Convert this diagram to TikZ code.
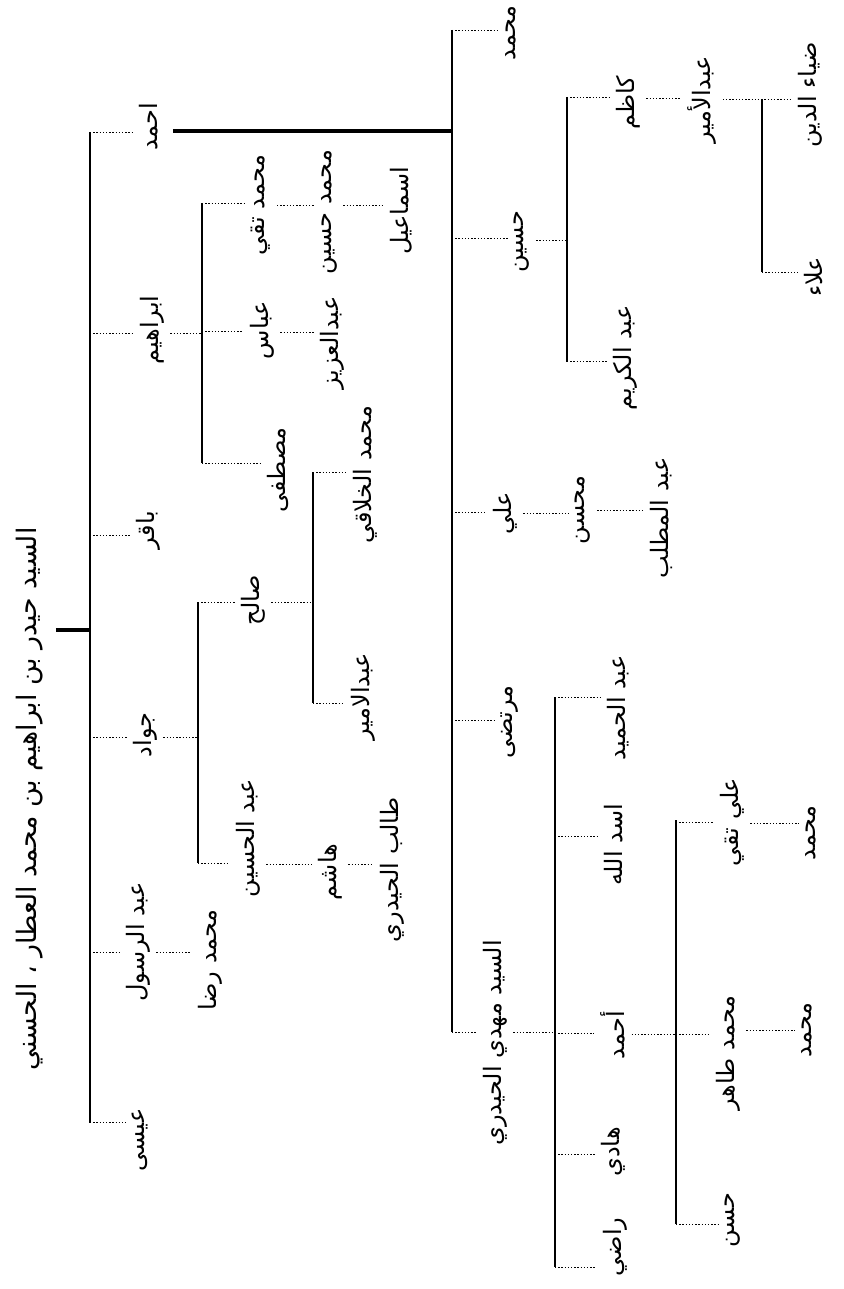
\documentclass[tikz,border=0pt]{standalone}
\usepackage{fontspec}
\newfontfamily\arabicfont[Script=Arabic]{DejaVu Sans}
\TeXXeTstate=1
\usetikzlibrary{calc}

\begin{document}
\begin{tikzpicture}[
  x=0.5pt, y=-0.5pt,
  person/.style={
    rotate=90, inner sep=3pt,
    font=\arabicfont\fontsize{12}{14}\selectfont,
  },
  founder/.style={person, font=\arabicfont\fontsize{13.4}{15}\selectfont},
  bar/.style={line width=1.2pt},
  heavybar/.style={line width=1.6pt},
  stub/.style={line width=0.4pt, dash pattern=on 0.7pt off 0.9pt},
]
\fill[white] (0,0) rectangle (844,1289);
\useasboundingbox (0,0) rectangle (844,1289);

% root
\node[founder] (root) at (30,799) {\beginR السيد حيدر بن ابراهيم بن محمد العطار ، الحسني\endR};
\coordinate (b0top) at (90,132);
\coordinate (b0bot) at (90,1123);
\draw[bar] (b0top) -- (b0bot);
\coordinate (k0) at (90,630);
\draw[heavybar, shorten <=3pt] (root.south |- k0) -- (k0);

% sons of the root
\node[person] (ahmad) at (149,127) {\beginR احمد\endR};
\node[person] (ibrahim) at (152,330) {\beginR ابراهيم\endR};
\node[person] (baqir) at (148,530) {\beginR باقر\endR};
\node[person] (jawad) at (145,735) {\beginR جواد\endR};
\node[person] (abdrasul) at (138,942) {\beginR عبد الرسول\endR};
\node[person] (isa) at (140,1140) {\beginR عيسى\endR};

\coordinate (k-ahmad) at (90,132);
\draw[stub] (k-ahmad) -- (ahmad.north |- k-ahmad);
\coordinate (k-ibrahim) at (90,333);
\draw[stub] (k-ibrahim) -- (ibrahim.north |- k-ibrahim);
\coordinate (k-baqir) at (90,535);
\draw[stub] (k-baqir) -- (baqir.north |- k-baqir);
\coordinate (k-jawad) at (90,737);
\draw[stub] (k-jawad) -- (jawad.north |- k-jawad);
\coordinate (k-abdrasul) at (90,952);
\draw[stub] (k-abdrasul) -- (abdrasul.north |- k-abdrasul);
\coordinate (k-isa) at (90,1122);
\draw[stub] (k-isa) -- (isa.north |- k-isa);

% line of ahmad
\coordinate (b1top) at (452,30);
\coordinate (b1bot) at (452,1032);
\draw[bar] (b1top) -- (b1bot);
\coordinate (k-b1) at (452,131);
\draw[heavybar, shorten <=4pt] (ahmad.south |- k-b1) -- (k-b1);

\node[person] (muhammad) at (511,33) {\beginR محمد\endR};
\node[person] (husain) at (522,242) {\beginR حسين\endR};
\node[person] (ali) at (505,513) {\beginR علي\endR};
\node[person] (murtada) at (510,722) {\beginR مرتضى\endR};
\node[person] (mahdi) at (495,1043) {\beginR السيد مهدي الحيدري\endR};

\coordinate (k-muhammad) at (452,30);
\draw[stub] (k-muhammad) -- (muhammad.north |- k-muhammad);
\coordinate (k-husain) at (452,238);
\draw[stub] (k-husain) -- (husain.north |- k-husain);
\coordinate (k-ali) at (452,512);
\draw[stub] (k-ali) -- (ali.north |- k-ali);
\coordinate (k-murtada) at (452,720);
\draw[stub] (k-murtada) -- (murtada.north |- k-murtada);
\coordinate (k-mahdi) at (452,1032);
\draw[stub] (k-mahdi) -- (mahdi.north |- k-mahdi);

% line of husain
\coordinate (b2top) at (567,97);
\coordinate (b2bot) at (567,362);
\draw[bar] (b2top) -- (b2bot);
\coordinate (k-b2) at (567,240);
\draw[stub] (husain.south |- k-b2) -- (k-b2);

\node[person] (kazim) at (628,103) {\beginR كاظم\endR};
\node[person] (abdkarim) at (625,358) {\beginR عبد الكريم\endR};
\node[person] (abdamir) at (702,100) {\beginR عبدالأمير\endR};
\node[person] (diya) at (810,95) {\beginR ضياء الدين\endR};
\node[person] (alaa) at (813,277) {\beginR علاء\endR};

\coordinate (k-kazim) at (567,97);
\draw[stub] (k-kazim) -- (kazim.north |- k-kazim);
\coordinate (k-abdkarim) at (567,361);
\draw[stub] (k-abdkarim) -- (abdkarim.north |- k-abdkarim);
\coordinate (k-abdamir) at (kazim.south |- 0,98);
\draw[stub] (k-abdamir) -- (abdamir.north |- k-abdamir);

\coordinate (b3top) at (762,99);
\coordinate (b3bot) at (762,272);
\draw[bar] (b3top) -- (b3bot);
\draw[stub] (abdamir.south |- b3top) -- (diya.north |- b3top);
\draw[stub] (b3bot) -- (alaa.north |- b3bot);

% line of ali
\node[person] (muhsin) at (583,510) {\beginR محسن\endR};
\node[person] (abdmuttalib) at (661,518) {\beginR عبد المطلب\endR};
\coordinate (k-muhsin) at (ali.south |- 0,513);
\draw[stub] (k-muhsin) -- (muhsin.north |- k-muhsin);
\coordinate (k-abdmuttalib) at (muhsin.south |- 0,510);
\draw[stub] (k-abdmuttalib) -- (abdmuttalib.north |- k-abdmuttalib);

% line of mahdi
\coordinate (b4top) at (555,697);
\coordinate (b4bot) at (555,1267);
\draw[bar] (b4top) -- (b4bot);
\draw[stub] (mahdi.south |- k-mahdi) -- (b4top |- k-mahdi);

\node[person] (abdhamid) at (618,708) {\beginR عبد الحميد\endR};
\node[person] (asadullah) at (614,845) {\beginR اسد الله\endR};
\node[person] (ahmadb) at (613,1035) {\beginR أحمد\endR};
\node[person] (hadi) at (613,1152) {\beginR هادي\endR};
\node[person] (radi) at (615,1247) {\beginR راضي\endR};

\coordinate (k-abdhamid) at (555,697);
\draw[stub] (k-abdhamid) -- (abdhamid.north |- k-abdhamid);
\coordinate (k-asadullah) at (555,836);
\draw[stub] (k-asadullah) -- (asadullah.north |- k-asadullah);
\coordinate (k-ahmadb) at (555,1033);
\draw[stub] (k-ahmadb) -- (ahmadb.north |- k-ahmadb);
\coordinate (k-hadi) at (555,1154);
\draw[stub] (k-hadi) -- (hadi.north |- k-hadi);
\coordinate (k-radi) at (555,1267);
\draw[stub] (k-radi) -- (radi.north |- k-radi);

% line of ahmad son of mahdi
\coordinate (b5top) at (676,820);
\coordinate (b5bot) at (676,1224);
\draw[bar] (b5top) -- (b5bot);
\coordinate (k-b5) at (676,1034);
\draw[stub] (ahmadb.south |- k-b5) -- (k-b5);

\node[person] (alitaqi) at (732,822) {\beginR علي تقي\endR};
\node[person] (tahir) at (728,1053) {\beginR محمد طاهر\endR};
\node[person] (hasan) at (733,1220) {\beginR حسن\endR};
\node[person] (muhammadc) at (811,833) {\beginR محمد\endR};
\node[person] (muhammadd) at (807,1030) {\beginR محمد\endR};

\coordinate (k-alitaqi) at (676,822);
\draw[stub] (k-alitaqi) -- (alitaqi.north |- k-alitaqi);
\draw[stub] (k-b5) -- (tahir.north |- k-b5);
\draw[stub] (b5bot) -- (hasan.north |- b5bot);
\coordinate (k-muhammadc) at (alitaqi.south |- 0,823);
\draw[stub] (k-muhammadc) -- (muhammadc.north |- k-muhammadc);
\coordinate (k-muhammadd) at (tahir.south |- 0,1030);
\draw[stub] (k-muhammadd) -- (muhammadd.north |- k-muhammadd);

% line of ibrahim
\coordinate (b6top) at (202,203);
\coordinate (b6bot) at (202,463);
\draw[bar] (b6top) -- (b6bot);
\coordinate (k-b6) at (202,333);
\draw[stub] (ibrahim.south |- k-b6) -- (k-b6);

\node[person] (taqi) at (261,205) {\beginR محمد تقي\endR};
\node[person] (abbas) at (262,330) {\beginR عباس\endR};
\node[person] (mustafa) at (278,470) {\beginR مصطفى\endR};
\node[person] (muhhusain) at (329,212) {\beginR محمد حسين\endR};
\node[person] (ismail) at (401,211) {\beginR اسماعيل\endR};
\node[person] (abdaziz) at (332,343) {\beginR عبدالعزيز\endR};

\draw[stub] (b6top) -- (taqi.north |- b6top);
\coordinate (k-abbas) at (202,331);
\draw[stub] (k-abbas) -- (abbas.north |- k-abbas);
\draw[stub] (b6bot) -- (mustafa.north |- b6bot);
\coordinate (k-muhhusain) at (taqi.south |- 0,205);
\draw[stub] (k-muhhusain) -- (muhhusain.north |- k-muhhusain);
\draw[stub] (muhhusain.south |- k-muhhusain) -- (ismail.north |- k-muhhusain);
\coordinate (k-abdaziz) at (abbas.south |- 0,332);
\draw[stub] (k-abdaziz) -- (abdaziz.north |- k-abdaziz);

% line of jawad
\coordinate (b7top) at (198,602);
\coordinate (b7bot) at (198,863);
\draw[bar] (b7top) -- (b7bot);
\coordinate (k-b7) at (198,737);
\draw[stub] (jawad.south |- k-b7) -- (k-b7);

\node[person] (salih) at (253,600) {\beginR صالح\endR};
\node[person] (abdhusain) at (248,838) {\beginR عبد الحسين\endR};
\draw[stub] (b7top) -- (salih.north |- b7top);
\draw[stub] (b7bot) -- (abdhusain.north |- b7bot);

\coordinate (b8top) at (313,472);
\coordinate (b8bot) at (313,703);
\draw[bar] (b8top) -- (b8bot);
\coordinate (k-b8) at (313,602);
\draw[stub] (salih.south |- k-b8) -- (k-b8);

\node[person] (khalaqi) at (365,475) {\beginR محمد الخلاقي\endR};
\node[person] (abdamirb) at (363,697) {\beginR عبدالامير\endR};
\draw[stub] (b8top) -- (khalaqi.north |- b8top);
\draw[stub] (b8bot) -- (abdamirb.north |- b8bot);

\node[person] (hashim) at (330,872) {\beginR هاشم\endR};
\node[person] (talib) at (392,870) {\beginR طالب الحيدري\endR};
\coordinate (k-hashim) at (abdhusain.south |- 0,864);
\draw[stub] (k-hashim) -- (hashim.north |- k-hashim);
\draw[stub] (hashim.south |- k-hashim) -- (talib.north |- k-hashim);

% line of abd al-rasul
\node[person] (rida) at (210,960) {\beginR محمد رضا\endR};
\coordinate (k-rida) at (abdrasul.south |- 0,952);
\draw[stub] (k-rida) -- (rida.north |- k-rida);

\end{tikzpicture}
\end{document}
